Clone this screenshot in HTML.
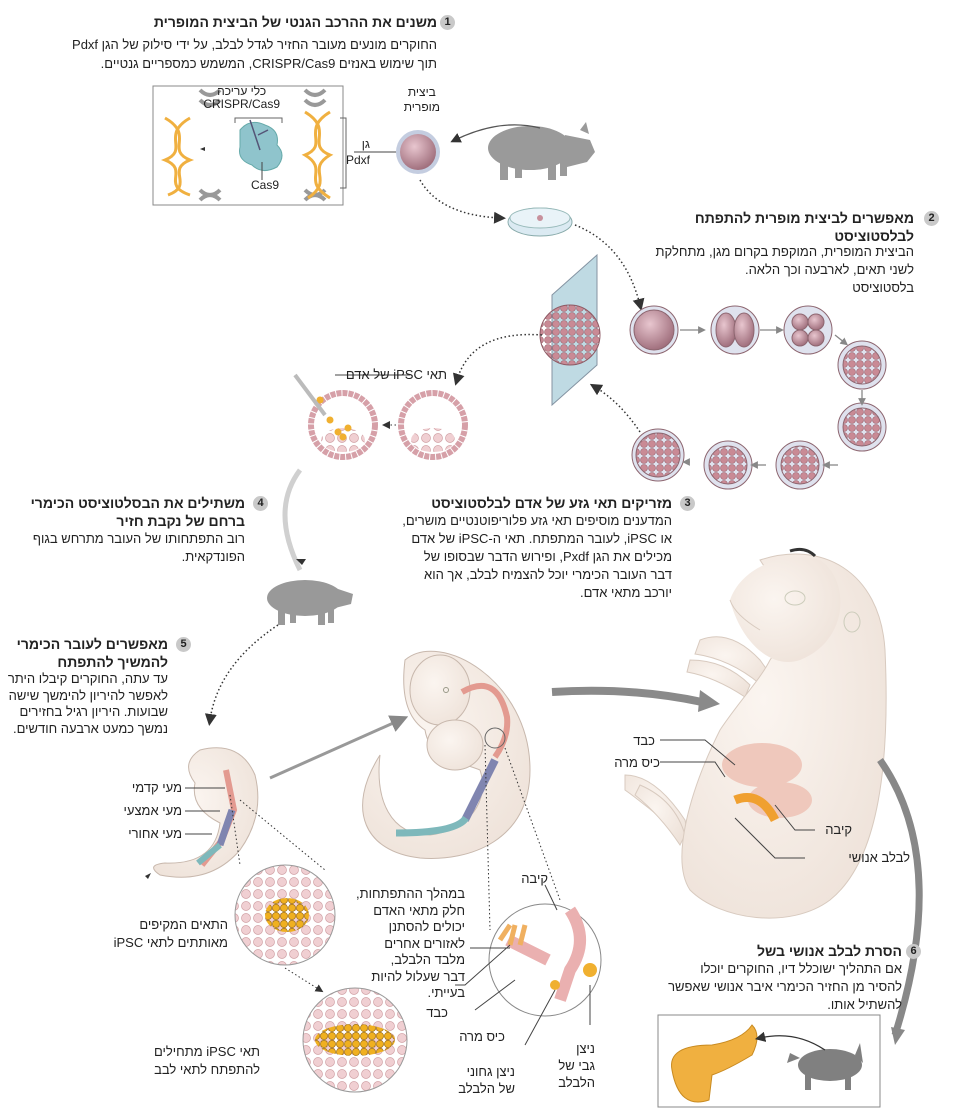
<!DOCTYPE html>
<html lang="he"><head><meta charset="utf-8">
<style>
body{margin:0;background:#fff;}
#c{position:relative;width:960px;height:1120px;overflow:hidden;font-family:"Liberation Sans","Noto Sans CJK SC",sans-serif;color:#222;}
.t{position:absolute;direction:rtl;text-align:right;font-size:13px;line-height:18px;white-space:nowrap;}
.b{font-weight:bold;font-size:14px;}
.n{position:absolute;width:15px;height:15px;border-radius:50%;background:#c9c9c9;font-size:11px;font-weight:bold;text-align:center;line-height:15px;}
svg{position:absolute;left:0;top:0;}
</style></head><body><div id="c">
<svg width="960" height="1120" viewBox="0 0 960 1120">
<defs>
<radialGradient id="egg" cx="0.4" cy="0.35" r="0.7"><stop offset="0" stop-color="#e8c6cf"/><stop offset="1" stop-color="#9c6a78"/></radialGradient>
<radialGradient id="skin" cx="0.4" cy="0.4" r="0.7"><stop offset="0" stop-color="#fbf5f0"/><stop offset="1" stop-color="#eee2d9"/></radialGradient>
<pattern id="cells" width="12" height="12" patternUnits="userSpaceOnUse"><circle cx="6" cy="6" r="4.5" fill="#f0cfd2" stroke="#d0a0a4" stroke-width="0.7"/></pattern>
<pattern id="cells2" width="8" height="8" patternUnits="userSpaceOnUse"><circle cx="4" cy="4" r="3.5" fill="#c98a95" stroke="#9b5f6a" stroke-width="0.6"/></pattern>
<pattern id="gold" width="8" height="8" patternUnits="userSpaceOnUse"><circle cx="4" cy="4" r="3.6" fill="#f0b020" stroke="#a07010" stroke-width="0.7"/></pattern>
<marker id="ah" markerWidth="8" markerHeight="8" refX="4" refY="4" orient="auto"><path d="M0,0 L8,4 L0,8 z" fill="#333"/></marker>
<marker id="ahg" markerWidth="6" markerHeight="6" refX="3" refY="3" orient="auto"><path d="M0,0 L6,3 L0,6 z" fill="#888"/></marker>
</defs>
<!-- box1 -->
<rect x="153" y="86" width="190" height="119" fill="none" stroke="#888"/>
<g stroke="#999" stroke-width="4" fill="none">
<path d="M200 90 q10 10 20 0 M200 100 q10 10 20 0 M200 190 q10 10 20 0 M200 200 q10 -10 20 0"/>
<path d="M305 90 q10 10 20 0 M305 100 q10 10 20 0 M305 190 q10 10 20 0 M305 200 q10 -10 20 0"/>
</g>
<g stroke="#f0b040" stroke-width="3" fill="none">
<path d="M165 118 C195 135,165 150,190 160 C165 170,195 185,168 195"/><path d="M190 118 C160 135,190 150,165 160 C190 170,160 185,190 195"/>
<path d="M305 112 C335 130,305 145,330 155 C305 170,335 180,308 198"/><path d="M330 112 C300 130,330 145,305 155 C330 170,300 180,330 198"/>
</g>
<path d="M240 130 q10 -12 25 -5 q15 5 12 20 q10 10 0 22 q-15 8 -25 -2 q-15 -5 -12 -18z" fill="#8fc4cc" stroke="#6aa" />
<path d="M250 120 l10 30 M258 135 l10 -5" stroke="#557" stroke-width="1.5"/>
<path d="M235 123 v-5 h47 v5" fill="none" stroke="#666"/>
<path d="M262 162 v18" stroke="#444"/>
<path d="M340 118 h6 v70 h-6" fill="none" stroke="#666"/>
<path d="M205 147 l-5 2 5 2z" fill="#333"/>
<line x1="354" y1="152" x2="398" y2="152" stroke="#444"/>
<circle cx="418" cy="152" r="22" fill="#c4cde0"/><circle cx="418" cy="152" r="18" fill="url(#egg)"/>
<!-- pig 1 -->
<g fill="#9a9a9a">
<ellipse cx="530" cy="148" rx="42" ry="22"/>
<path d="M565 135 l25 5 5 12 -8 10 -20 5z"/>
<path d="M580 130 l6 -8 3 12z"/>
<rect x="500" y="158" width="8" height="22"/><rect x="515" y="160" width="7" height="18"/><rect x="548" y="158" width="8" height="22"/><rect x="560" y="158" width="7" height="18"/>
</g>
<path d="M540 128 q-40 -10 -85 12" fill="none" stroke="#555" stroke-width="1.3" marker-end="url(#ah)"/>
<path d="M420 180 q20 35 80 38" fill="none" stroke="#333" stroke-width="1.5" stroke-dasharray="1.5 2.5" marker-end="url(#ah)"/>
<ellipse cx="540" cy="222" rx="32" ry="14" fill="#dbeaf2" stroke="#8aa"/><ellipse cx="540" cy="218" rx="30" ry="10" fill="#e9f3f8" stroke="#9bb"/><circle cx="540" cy="218" r="3" fill="#c7909c"/>
<path d="M575 225 q50 20 65 80" fill="none" stroke="#333" stroke-width="1.5" stroke-dasharray="1.5 2.5" marker-end="url(#ah)"/>
<!-- slab -->
<path d="M552 295 L597 255 L597 365 L552 405z" fill="#b9d7e0" stroke="#789" opacity="0.9"/>
<circle cx="570" cy="335" r="30" fill="url(#cells2)" stroke="#8d5a64"/>
<!-- cleavage -->
<g stroke="#8d6670" stroke-width="1">
<circle cx="654" cy="330" r="24" fill="#dfe2ee"/><circle cx="654" cy="330" r="20" fill="url(#egg)"/>
<circle cx="735" cy="330" r="24" fill="#dfe2ee"/><ellipse cx="726" cy="330" rx="10" ry="17" fill="url(#egg)"/><ellipse cx="744" cy="330" rx="10" ry="17" fill="url(#egg)"/>
<circle cx="808" cy="330" r="24" fill="#dfe2ee"/><circle cx="800" cy="322" r="8" fill="url(#egg)"/><circle cx="816" cy="322" r="8" fill="url(#egg)"/><circle cx="800" cy="338" r="8" fill="url(#egg)"/><circle cx="816" cy="338" r="8" fill="url(#egg)"/>
<circle cx="862" cy="365" r="24" fill="#dfe2ee"/><circle cx="862" cy="365" r="19" fill="url(#cells2)"/>
<circle cx="862" cy="427" r="24" fill="#dfe2ee"/><circle cx="862" cy="427" r="19" fill="url(#cells2)"/>
<circle cx="800" cy="465" r="24" fill="#dfe2ee"/><circle cx="800" cy="465" r="19" fill="url(#cells2)"/>
<circle cx="728" cy="465" r="24" fill="#dfe2ee"/><circle cx="728" cy="465" r="19" fill="url(#cells2)"/>
<circle cx="658" cy="455" r="26" fill="#dfe2ee"/><circle cx="658" cy="455" r="22" fill="url(#cells2)"/>
</g>
<g stroke="#888" stroke-width="1.3" fill="none" marker-end="url(#ahg)">
<path d="M680 330 h22"/><path d="M760 330 h20"/><path d="M835 335 l10 8"/><path d="M862 390 v12"/><path d="M838 465 h-12"/><path d="M766 465 h-12"/><path d="M690 462 h-4"/>
</g>
<path d="M640 432 q-20 -30 -45 -45" fill="none" stroke="#333" stroke-width="1.5" stroke-dasharray="1.5 2.5" marker-end="url(#ah)"/>
<path d="M542 335 q-70 -5 -85 45" fill="none" stroke="#333" stroke-width="1.5" stroke-dasharray="1.5 2.5" marker-end="url(#ah)"/>
<!-- blastocysts -->
<circle cx="433" cy="425" r="32" fill="#fff" stroke="#d6a0a8" stroke-width="6" stroke-dasharray="5 1"/>
<ellipse cx="433" cy="440" rx="22" ry="12" fill="url(#cells)"/>
<circle cx="343" cy="425" r="32" fill="#fff" stroke="#d6a0a8" stroke-width="6" stroke-dasharray="5 1"/>
<ellipse cx="343" cy="440" rx="22" ry="12" fill="url(#cells)"/>
<g fill="#f0b030"><circle cx="330" cy="420" r="3.5"/><circle cx="338" cy="432" r="3.5"/><circle cx="348" cy="428" r="3.5"/><circle cx="320" cy="400" r="3.5"/><circle cx="343" cy="437" r="3.5"/></g>
<path d="M295 375 l30 40" stroke="#bbb" stroke-width="4"/>
<path d="M396 425 h-10" stroke="#333" stroke-dasharray="1.5 2.5" marker-end="url(#ah)"/>
<line x1="410" y1="375" x2="335" y2="375" stroke="#444"/>
<!-- gray curve arrow to pig2 -->
<path d="M300 470 q-30 40 0 100" fill="none" stroke="#d0d0d0" stroke-width="5"/>
<path d="M302 565 l-6 -6 10 0z" fill="#333"/>
<g fill="#999">
<ellipse cx="305" cy="598" rx="38" ry="18"/>
<path d="M335 588 l18 6 -2 10 -16 4z"/>
<rect x="278" y="605" width="7" height="20"/><rect x="290" y="605" width="6" height="18"/><rect x="318" y="605" width="7" height="20"/><rect x="328" y="605" width="6" height="18"/>
</g>
<path d="M278 625 q-60 40 -68 95" fill="none" stroke="#333" stroke-width="1.5" stroke-dasharray="1.5 2.5" marker-end="url(#ah)"/>
<!-- small embryo -->
<path d="M200 750 q40 -10 55 25 q10 40 -15 75 q-30 35 -80 25 q-15 -10 5 -12 q50 2 55 -40 q-30 -15 -25 -40 q-15 -20 5 -33z" fill="url(#skin)" stroke="#c8b8ad"/>
<path d="M226 770 l8 40 -12 30 -20 25" stroke="#e39a90" stroke-width="6" fill="none"/>
<path d="M232 810 l-12 35" stroke="#8085b0" stroke-width="7"/><path d="M220 845 l-22 18" stroke="#7eb8bb" stroke-width="6"/>
<line x1="185" y1="788" x2="225" y2="788" stroke="#444"/><line x1="185" y1="811" x2="220" y2="811" stroke="#444"/><line x1="185" y1="834" x2="212" y2="834" stroke="#444"/>
<path d="M270 778 L400 720" stroke="#999" stroke-width="3" marker-end="url(#ahg)"/>
<path d="M230 795 L240 865 M240 800 L325 870" stroke="#333" stroke-dasharray="1.5 2.5"/>
<circle cx="285" cy="915" r="50" fill="url(#cells)" stroke="#999"/>
<ellipse cx="287" cy="915" rx="22" ry="17" fill="url(#gold)"/>
<path d="M285 968 L320 990" stroke="#333" stroke-dasharray="1.5 2.5" marker-end="url(#ah)"/>
<circle cx="355" cy="1040" r="52" fill="url(#cells)" stroke="#999"/>
<ellipse cx="355" cy="1040" rx="40" ry="16" fill="url(#gold)"/>
<!-- mid embryo -->
<path d="M405 660 C440 630 530 680 530 770 C530 840 470 862 420 858 C365 852 345 810 380 755 C375 800 390 835 430 835 C470 830 490 800 480 770 C455 760 430 760 425 730 C410 720 400 700 405 660z" fill="url(#skin)" stroke="#c8b8ad"/>
<ellipse cx="440" cy="690" rx="30" ry="35" fill="url(#skin)" stroke="#c8b8ad"/>
<ellipse cx="455" cy="745" rx="28" ry="25" fill="url(#skin)" stroke="#c8b8ad"/>
<circle cx="446" cy="690" r="2.5" fill="none" stroke="#998"/>
<path d="M462 692 q35 -20 45 25 q2 20 -12 40" stroke="#e39a90" stroke-width="6" fill="none"/>
<path d="M495 760 l-20 40 -10 20" stroke="#8085b0" stroke-width="8" fill="none"/><path d="M466 818 q-10 15 -70 15" stroke="#7eb8bb" stroke-width="7" fill="none"/>
<circle cx="495" cy="738" r="10" fill="none" stroke="#666"/>
<path d="M485 745 L490 930 M505 748 L560 900" stroke="#333" stroke-dasharray="1.5 2.5"/>
<path d="M552 692 q80 -5 150 10" fill="none" stroke="#8a8a8a" stroke-width="8"/><path d="M700 690 l20 14 -22 8z" fill="#8a8a8a"/>
<!-- inset -->
<circle cx="545" cy="960" r="56" fill="#fff" stroke="#888"/>
<path d="M570 910 q20 30 0 60 l-10 30 M548 960 l-40 -20" stroke="#eab0b0" stroke-width="12" fill="none"/>
<path d="M500 940 l10 -15 M510 945 l5 -20 M520 945 l5 -20" stroke="#f0b060" stroke-width="5"/>
<circle cx="590" cy="970" r="7" fill="#f0b030"/><circle cx="555" cy="985" r="5" fill="#f0b030"/>
<g stroke="#444" fill="none"><path d="M470 948 h40 M455 985 h10 l45 -40 M475 1010 l40 -30 M525 1045 l30 -55 M590 985 v40 M545 885 l12 25"/></g>
<!-- big fetus -->
<g fill="url(#skin)" stroke="#d8cabf">
<path d="M700 640 q30 -12 60 20 l10 14 -10 10 q-30 -25 -65 -30 z"/>
<path d="M690 660 q35 0 60 25 l-5 12 q-30 -20 -58 -25z"/>
<path d="M625 775 q30 0 60 45 l5 25 q-30 -30 -65 -55z"/>
<path d="M640 785 q35 15 45 50 l-5 10 q-20 -30 -45 -50z"/>
<path d="M760 560 C820 540 880 570 885 650 C890 760 880 860 830 900 C790 930 720 920 690 890 C670 860 690 790 720 730 C740 700 760 680 770 660 C800 620 780 590 760 560z"/>
<path d="M730 600 C740 570 780 550 820 560 C850 580 850 640 800 660 C770 670 740 640 730 600z" stroke="none"/>
</g>
<path d="M730 600 q5 15 30 30" fill="none" stroke="#d8cabf"/>
<path d="M790 551 q15 -5 25 5" stroke="#333" stroke-width="3" fill="none"/>
<ellipse cx="795" cy="598" rx="10" ry="7" fill="none" stroke="#ccb"/>
<ellipse cx="852" cy="622" rx="8" ry="10" fill="none" stroke="#ccb"/>
<ellipse cx="762" cy="765" rx="40" ry="22" fill="#efc8bc"/>
<ellipse cx="780" cy="800" rx="32" ry="18" fill="#efc8bc"/>
<path d="M735 800 q25 -10 40 20" stroke="#f0a030" stroke-width="9" fill="none"/>
<g stroke="#444" fill="none"><path d="M660 740 h45 l30 25 M660 762 h55 l10 15 M815 830 h-20 l-20 -25 M805 858 h-30 l-40 -40"/></g>
<path d="M880 760 q70 100 15 275" fill="none" stroke="#888" stroke-width="7"/><path d="M905 1030 l-10 15 -4 -18z" fill="#888"/>
<!-- box 6 -->
<rect x="658" y="1015" width="222" height="92" fill="none" stroke="#888"/>
<path d="M672 1070 q-5 -25 40 -25 q30 -5 40 -20 q10 10 0 30 q-25 15 -40 20 l-3 25 q-30 10 -37 -30z" fill="#f0b040" stroke="#c88a20"/>
<g fill="#808080"><ellipse cx="830" cy="1065" rx="32" ry="16"/><path d="M855 1055 l5 -12 3 20z"/><path d="M800 1058 l-10 -5 -3 10z"/>
<rect x="805" y="1070" width="6" height="20"/><rect x="845" y="1070" width="6" height="20"/></g>
<path d="M825 1050 q-30 -20 -65 -12" fill="none" stroke="#333" stroke-width="1.3" marker-end="url(#ah)"/>
<path d="M145 876 l6 -3 -3 6z" fill="#333"/>
</svg>

<div class="n" style="left:440px;top:15px">1</div>
<div class="t b" style="right:523px;top:13px">משנים את ההרכב הגנטי של הביצית המופרית</div>
<div class="t" style="right:523px;top:35px;line-height:19px">החוקרים מונעים מעובר החזיר לגדל לבלב, על ידי סילוק של הגן Pdxf<br>תוך שימוש באנזים CRISPR/Cas9, המשמש כמספריים גנטיים.</div>
<div class="t" style="right:680px;top:85px;font-size:12px;line-height:13px;text-align:center">כלי עריכה<br>CRISPR/Cas9</div>
<div class="t" style="right:681px;top:176px;font-size:12px">Cas9</div>
<div class="t" style="right:590px;top:136px;font-size:12px;line-height:16px">גן<br>Pdxf</div>
<div class="t" style="right:520px;top:85px;font-size:12px;line-height:15px;text-align:center">ביצית<br>מופרית</div>

<div class="n" style="left:924px;top:211px">2</div>
<div class="t b" style="right:46px;top:209px;line-height:18px">מאפשרים לביצית מופרית להתפתח<br>לבלסטוציסט</div>
<div class="t" style="right:46px;top:243px">הביצית המופרית, המוקפת בקרום מגן, מתחלקת<br>לשני תאים, לארבעה וכך הלאה.<br>בלסטוציסט</div>

<div class="t" style="right:513px;top:366px">תאי iPSC של אדם</div>

<div class="n" style="left:680px;top:496px">3</div>
<div class="t b" style="right:288px;top:494px">מזריקים תאי גזע של אדם לבלסטוציסט</div>
<div class="t" style="right:288px;top:512px">המדענים מוסיפים תאי גזע פלוריפוטנטיים מושרים,<br>או iPSC, לעובר המתפתח. תאי ה-iPSC של אדם<br>מכילים את הגן Pxdf, ופירוש הדבר שבסופו של<br>דבר העובר הכימרי יוכל להצמיח לבלב, אך הוא<br>יורכב מתאי אדם.</div>

<div class="n" style="left:253px;top:496px">4</div>
<div class="t b" style="right:715px;top:494px">משתילים את הבסלטוציסט הכימרי<br>ברחם של נקבת חזיר</div>
<div class="t" style="right:715px;top:530px">רוב התפתחותו של העובר מתרחש בגוף<br>הפונדקאית.</div>

<div class="n" style="left:176px;top:637px">5</div>
<div class="t b" style="right:792px;top:635px">מאפשרים לעובר הכימרי<br>להמשיך להתפתח</div>
<div class="t" style="right:792px;top:671px;line-height:16.5px">עד עתה, החוקרים קיבלו היתר<br>לאפשר להיריון להימשך שישה<br>שבועות. היריון רגיל בחזירים<br>נמשך כמעט ארבעה חודשים.</div>

<div class="t" style="right:778px;top:779px">מעי קדמי</div>
<div class="t" style="right:778px;top:802px">מעי אמצעי</div>
<div class="t" style="right:778px;top:825px">מעי אחורי</div>
<div class="t" style="right:732px;top:916px">התאים המקיפים<br>מאותתים לתאי iPSC</div>
<div class="t" style="right:700px;top:1043px">תאי iPSC מתחילים<br>להתפתח לתאי לבב</div>

<div class="t" style="right:495px;top:886px;line-height:16.5px">במהלך ההתפתחות,<br>חלק מתאי האדם<br>יכולים להסתנן<br>לאזורים אחרים<br>מלבד הלבלב,<br>דבר שעלול להיות<br>בעייתי.</div>
<div class="t" style="right:412px;top:870px">קיבה</div>
<div class="t" style="right:512px;top:1004px">כבד</div>
<div class="t" style="right:455px;top:1028px">כיס מרה</div>
<div class="t" style="right:445px;top:1063px;line-height:17px">ניצן גחוני<br>של הלבלב</div>
<div class="t" style="right:365px;top:1040px;line-height:17px">ניצן<br>גבי של<br>הלבלב</div>

<div class="t" style="right:305px;top:732px">כבד</div>
<div class="t" style="right:300px;top:754px">כיס מרה</div>
<div class="t" style="right:108px;top:821px">קיבה</div>
<div class="t" style="right:50px;top:849px">לבלב אנושי</div>

<div class="n" style="left:906px;top:944px">6</div>
<div class="t b" style="right:58px;top:942px">הסרת לבלב אנושי בשל</div>
<div class="t" style="right:58px;top:960px">אם התהליך ישוכלל דיו, החוקרים יוכלו<br>להסיר מן החזיר הכימרי איבר אנושי שאפשר<br>להשתיל אותו.</div>
</div></body></html>
